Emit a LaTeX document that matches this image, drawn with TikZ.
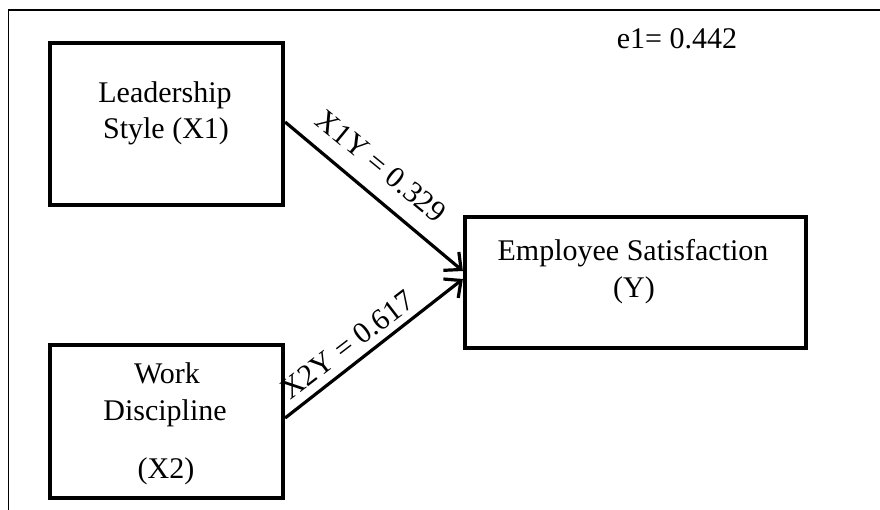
\documentclass[tikz,border=0pt]{standalone}
\usepackage{fontspec}
\setmainfont{Liberation Serif}
\usetikzlibrary{arrows.meta,calc}
\begin{document}
\begin{tikzpicture}[x=1pt,y=-1pt,
  varbox/.style={draw,line width=4.2pt,inner sep=0pt},
  txt/.style={anchor=base,inner sep=0pt,font=\fontsize{30}{36}\selectfont},
  path/.style={line width=3.2pt,-{Straight Barb[length=13pt,width=24pt,line width=3.2pt]}},
  coef/.style={inner sep=0pt,font=\fontsize{30}{36}\selectfont}]
\useasboundingbox (0,0) rectangle (880,509);
\clip (0,0) rectangle (880,509);
\draw[line width=1.5pt] (8.5,10) rectangle (890,520);
% boxes
\node[varbox,minimum width=233pt,minimum height=162pt] (b1) at (166.5,124) {};
\node[varbox,minimum width=233pt,minimum height=153pt] (b2) at (166.5,421.5) {};
\node[varbox,minimum width=341pt,minimum height=131pt] (by) at (635.5,282.5) {};
% texts
\node[txt] (t1a) at (165,102) {Leadership};
\node[txt] (t1b) at (166,138) {Style (X1)};
\node[txt] (t2a) at (167,383) {Work};
\node[txt] (t2b) at (165,420) {Discipline};
\node[txt] (t2c) at (166,478) {(X2)};
\node[txt] (tya) at (633,260) {Employee Satisfaction};
\node[txt] (tyb) at (634,297) {(Y)};
\node[txt] (e1) at (677,48) {e1= 0.442};
% connectors
\coordinate (s1) at (b1.east |- 0,122);
\coordinate (s2) at (b2.east |- 0,418);
\coordinate (e1p) at (by.west |- 0,271);
\coordinate (e2p) at (by.west |- 0,279);
\draw[path] (s1) -- (e1p);
\draw[path] (s2) -- (e2p);
\node[coef,rotate=-39.3] (c1) at (381,166) {X1Y = 0.329};
\node[coef,rotate=37.4] (c2) at (347.5,345) {X2Y = 0.617};
\end{tikzpicture}
\end{document}
